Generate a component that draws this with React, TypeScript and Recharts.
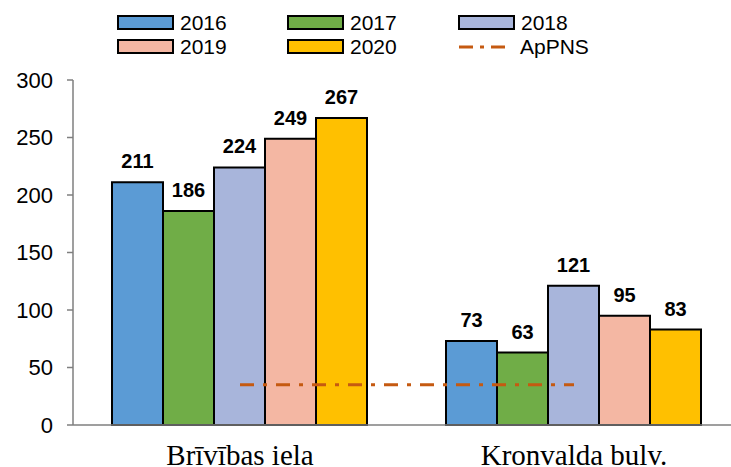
import {
  ComposedChart,
  Bar,
  Line,
  XAxis,
  YAxis,
  Legend,
  LabelList,
} from 'recharts'

const categories = ['Brīvības iela', 'Kronvalda bulv.']
const years = ['2016', '2017', '2018', '2019', '2020']
const values2016 = [211, 73]
const values2017 = [186, 63]
const values2018 = [224, 121]
const values2019 = [249, 95]
const values2020 = [267, 83]
const apPNS = [35, 35]
const yTicks = [0, 50, 100, 150, 200, 250, 300]

const colors = ['#5B9BD5', '#70AD47', '#A8B5DB', '#F4B7A3', '#FFC000']
const lineColor = '#C55A11'
const dash = '14 9 4 9'

const seriesValues = [values2016, values2017, values2018, values2019, values2020]

const data = categories.map((name, i) => {
  const row: Record<string, string | number> = { name, apPNS: apPNS[i] }
  years.forEach((y, k) => {
    row[y] = seriesValues[k][i]
  })
  return row
})

const legendItems = [...years, 'ApPNS']

function ChartLegend() {
  const colX = [118, 288, 459]
  const rowY = [16, 40]
  return (
    <svg width={731} height={70} style={{ display: 'block' }}>
      {legendItems.map((label, i) => {
        const x = colX[i % 3]
        const y = rowY[Math.floor(i / 3)]
        const isLine = label === 'ApPNS'
        return (
          <g key={label}>
            {isLine ? (
              <line
                x1={x}
                x2={x + 50}
                y1={y + 7}
                y2={y + 7}
                stroke={lineColor}
                strokeWidth={3}
                strokeDasharray="14 7 4 7"
              />
            ) : (
              <rect
                x={x}
                y={y}
                width={55}
                height={13}
                fill={colors[i]}
                stroke="#000"
                strokeWidth={2}
              />
            )}
            <text
              x={isLine ? x + 61 : x + 62}
              y={y + 14}
              fontSize={21}
              fontFamily="'Liberation Sans', Arial, sans-serif"
              fill="#000"
            >
              {label}
            </text>
          </g>
        )
      })}
    </svg>
  )
}

export default function App() {
  return (
    <div
      style={{
        position: 'absolute',
        left: 0,
        top: 0,
        width: 731,
        height: 467,
        overflow: 'hidden',
        background: '#fff',
      }}
    >
      <ComposedChart
        width={741}
        height={467}
        data={data}
        margin={{ top: 10, right: 0, bottom: 0, left: 0 }}
        barCategoryGap={39}
        barGap={0}
      >
        <XAxis
          dataKey="name"
          height={42}
          tickLine={false}
          axisLine={{ stroke: '#7f7f7f', strokeWidth: 1.5 }}
          tickMargin={13}
          tick={{
            fill: '#000',
            fontSize: 29,
            fontFamily: "'Liberation Serif', 'Times New Roman', serif",
          }}
        />
        <YAxis
          width={73}
          domain={[0, 300]}
          ticks={yTicks}
          interval={0}
          tickSize={6}
          tickMargin={14}
          axisLine={{ stroke: '#7f7f7f', strokeWidth: 1.5 }}
          tickLine={{ stroke: '#7f7f7f', strokeWidth: 1.5 }}
          tick={{
            fill: '#000',
            fontSize: 22,
            fontFamily: "'Liberation Sans', Arial, sans-serif",
          }}
        />
        <Legend
          verticalAlign="top"
          content={<ChartLegend />}
          wrapperStyle={{ position: 'absolute', top: 0, left: 0, width: 731, height: 70 }}
        />
        {years.map((y, k) => (
          <Bar
            key={y}
            dataKey={y}
            fill={colors[k]}
            stroke="#000"
            strokeWidth={2}
            isAnimationActive={false}
          >
            <LabelList
              dataKey={y}
              position="top"
              offset={14}
              fill="#000"
              fontSize={20}
              fontWeight="bold"
              fontFamily="'Liberation Sans', Arial, sans-serif"
            />
          </Bar>
        ))}
        <Line
          dataKey="apPNS"
          stroke={lineColor}
          strokeWidth={3}
          strokeDasharray={dash}
          dot={false}
          activeDot={false}
          isAnimationActive={false}
        />
      </ComposedChart>
    </div>
  )
}
